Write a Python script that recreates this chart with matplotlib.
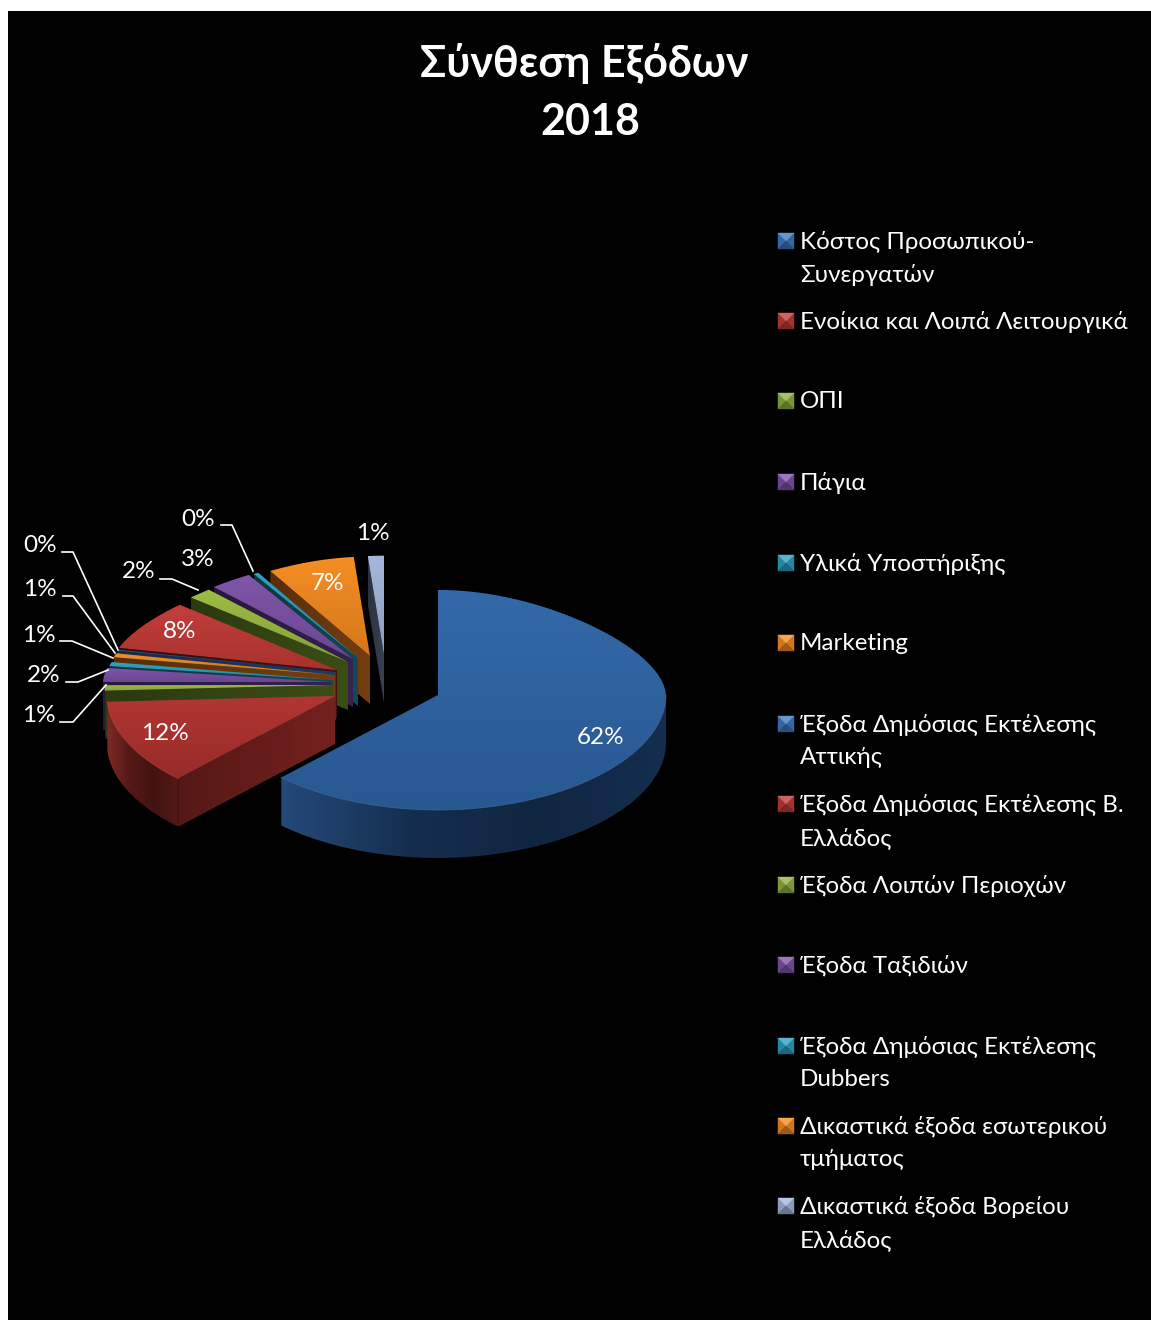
import numpy as np
import matplotlib

matplotlib.use("Agg")

import matplotlib.pyplot as plt
from matplotlib.colors import LinearSegmentedColormap, to_rgb
from matplotlib.patches import Polygon, Rectangle

plt.rcParams["font.family"] = ["Lato", "Open Sans", "DejaVu Sans"]

title_lines = ["Σύνθεση Εξόδων", "2018"]
categories = [
    "Κόστος Προσωπικού-\nΣυνεργατών",
    "Ενοίκια και Λοιπά Λειτουργικά",
    "ΟΠΙ",
    "Πάγια",
    "Υλικά Υποστήριξης",
    "Marketing",
    "Έξοδα Δημόσιας Εκτέλεσης\nΑττικής",
    "Έξοδα Δημόσιας Εκτέλεσης Β.\nΕλλάδος",
    "Έξοδα Λοιπών Περιοχών",
    "Έξοδα Ταξιδιών",
    "Έξοδα Δημόσιας Εκτέλεσης\nDubbers",
    "Δικαστικά έξοδα εσωτερικού\nτμήματος",
    "Δικαστικά έξοδα Βορείου\nΕλλάδος",
]
values = [62.0, 12.1, 0.8, 2.1, 0.6, 0.6, 0.1, 7.5, 1.7, 3.15, 0.4, 7.4, 1.45]

# top, wall colours per slice
top_colors = ["#2f66a8", "#b0322f", "#9bbb40", "#7d52a8", "#2aa0c2", "#f68b20",
              "#2f66a8", "#c23a37", "#9bbb40", "#7d52a8", "#2aa0c2", "#f68b20", "#a3b6dc"]
wall_colors = ["#1e4475", "#7a2320", "#3e5216", "#3a2354", "#114d5d", "#7a4210",
               "#1c3f6d", "#4a1412", "#3e5216", "#3a2354", "#114d5d", "#7a4210", "#3d4658"]
legend_colors = ["#3f78c0", "#c23a37", "#8fb040", "#7d52a8", "#2aa0c2", "#f68b20",
                 "#3f78c0", "#c23a37", "#8fb040", "#7d52a8", "#2aa0c2", "#f68b20", "#a3b6dc"]

# exploded slice apex positions in pixels
apex_x = [438, 335, 333, 331, 333, 335, 336, 337, 348, 353, 358, 370, 384]
apex_y = [695, 696, 685, 682, 680, 675, 672, 670, 662, 659, 658, 656, 655]

label_x = [601, 165, 39, 44, 39, 40, 40, 180, 139, 198, 198, 328, 373]
label_y = [738, 734, 716, 676, 636, 590, 546, 632, 572, 560, 520, 584, 534]
leaders = {
    2: [(60, 722), (73, 722), (106, 685)],
    3: [(66, 682), (78, 682), (108, 670)],
    4: [(60, 641), (72, 641), (113, 658)],
    5: [(63, 596), (73, 596), (115, 653)],
    6: [(62, 552), (73, 552), (118, 650)],
    8: [(160, 579), (172, 579), (198, 590)],
    10: [(221, 525), (232, 525), (253, 571)],
}
legend_y = [242, 322, 402, 483, 564, 644, 725, 805, 886, 966, 1047, 1127, 1207]

RX = 228
RY = 110
PERSP = 0.045
NARROW = 0.22
DEPTH = 48


def shade(color, factor):
    rgb = np.array(to_rgb(color))
    if factor >= 1:
        return tuple(rgb + (1 - rgb) * (factor - 1))
    return tuple(rgb * factor)


def rim(i, start, stop, num=80):
    angles = np.radians(np.linspace(start, stop, num))
    ry = RY + 0.15 * (apex_y[i] - 695)
    c = np.cos(angles)
    # the far half of the pie is drawn narrower
    rx = RX * (1 - NARROW * np.maximum(c, 0) ** 1.5)
    return np.column_stack([apex_x[i] + rx * np.sin(angles), apex_y[i] - ry * c * (1 - PERSP * c)])


def gradient_fill(ax, points, colors, zorder, horizontal=False):
    points = np.asarray(points)
    cmap = LinearSegmentedColormap.from_list("g", colors)
    ramp = np.linspace(0, 1, 256)
    ramp = ramp[None, :] if horizontal else ramp[:, None]
    x0, y0 = points.min(axis=0)
    x1, y1 = points.max(axis=0)
    image = ax.imshow(ramp, extent=(x0, x1, y1, y0), origin="upper", aspect="auto",
                      cmap=cmap, zorder=zorder, interpolation="bilinear")
    image.set_clip_path(Polygon(points, closed=True, transform=ax.transData))


def draw_slice(ax, i, start, stop, zorder):
    apex = np.array([apex_x[i], apex_y[i]], dtype=float)
    down = np.array([0, DEPTH])
    top = top_colors[i]
    wall = wall_colors[i]

    # outer wall, only the part facing the viewer
    front_a, front_b = max(start, 90), min(stop, 270)
    if front_b > front_a:
        arc = rim(i, front_a, front_b)
        gradient_fill(ax, np.vstack([arc, (arc + down)[::-1]]),
                      [shade(wall, 1.03), shade(wall, 0.68), shade(wall, 0.55), shade(wall, 0.68)],
                      zorder, horizontal=True)

    # cut face on the left half
    if start >= 180:
        corner = rim(i, start, start, 1)[0]
        face = [apex, corner, corner + down, apex + down]
        gradient_fill(ax, face, [shade(wall, 0.7), shade(wall, 0.95)], zorder + 0.1, horizontal=True)

    points = np.vstack([apex, rim(i, start, stop)])
    gradient_fill(ax, points, [shade(top, 1.02), shade(top, 0.86)], zorder + 0.2)

    if front_b > front_a:
        arc = rim(i, front_a, front_b)
        ax.plot(arc[:, 0], arc[:, 1], color=shade(top, 1.1), lw=0.6, alpha=0.7, zorder=zorder + 0.3)


def draw_bullet(ax, x, y, color, size=16):
    half = size / 2
    x0, x1, y0, y1 = x - half, x + half, y - half, y + half
    faces = [
        ([(x0, y0), (x0, y1), (x, y)], 0.85),
        ([(x1, y0), (x1, y1), (x, y)], 0.85),
        ([(x0, y1), (x1, y1), (x, y)], 0.65),
        ([(x0, y0), (x1, y0), (x, y)], 1.22),
    ]
    for corners, factor in faces:
        tone = shade(color, factor)
        ax.add_patch(Polygon(corners, facecolor=tone, edgecolor=tone, lw=0.3, zorder=30))


fig = plt.figure(figsize=(11.51, 13.2), dpi=100, facecolor="white")
ax = fig.add_axes([0, 0, 1, 1])
ax.add_patch(Rectangle((8, 11), 1143, 1309, color="black", lw=0, zorder=0))

edges = np.concatenate([[0], np.cumsum(values)]) / sum(values) * 360
for order, i in enumerate(reversed(range(len(values)))):
    draw_slice(ax, i, edges[i], edges[i + 1], zorder=1 + order)

for i, value in enumerate(values):
    ax.text(label_x[i], label_y[i], f"{value:.0f}%", color="white", fontsize=17.5,
            ha="center", va="center", zorder=40)
for points in leaders.values():
    xs, ys = zip(*points)
    ax.plot(xs, ys, color="white", lw=1.2, zorder=40)

ax.text(584, 64, title_lines[0], color="white", fontsize=31, fontweight="bold",
        ha="center", va="center", zorder=40)
ax.text(590, 122, title_lines[1], color="white", fontsize=31, fontweight="bold",
        ha="center", va="center", zorder=40)

for i, name in enumerate(categories):
    draw_bullet(ax, 786, legend_y[i] - 1, legend_colors[i])
    for row, line in enumerate(name.split("\n")):
        ax.text(800, legend_y[i] + row * 33, line, color="white", fontsize=17.4,
                ha="left", va="center", zorder=40)

ax.set_xlim(0, 1151)
ax.set_ylim(1320, 0)
ax.axis("off")
fig.savefig("out.png", dpi=100, facecolor="white")
plt.close(fig)
